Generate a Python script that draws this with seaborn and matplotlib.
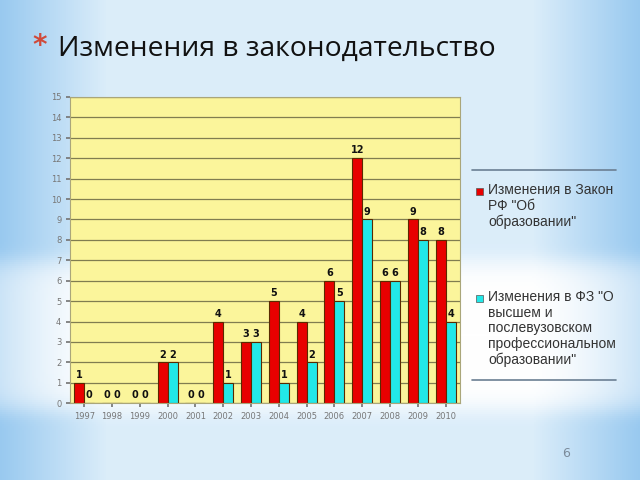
import numpy as np
import pandas as pd
import matplotlib
matplotlib.use("Agg")
import matplotlib.pyplot as plt
import seaborn as sns
from matplotlib.lines import Line2D
from matplotlib.patches import Rectangle

years = ["1997", "1998", "1999", "2000", "2001", "2002", "2003", "2004",
         "2005", "2006", "2007", "2008", "2009", "2010"]
law_rf = [1, 0, 0, 2, 0, 4, 3, 5, 4, 6, 12, 6, 9, 8]
law_fz = [0, 0, 0, 2, 0, 1, 3, 1, 2, 5, 9, 6, 8, 4]
series_names = ["Изменения в Закон\nРФ \"Об\nобразовании\"",
                "Изменения в ФЗ \"О\nвысшем и\nпослевузовском\nпрофессиональном\nобразовании\""]
colors = ["#E80000", "#22E8E8"]
title = "Изменения в законодательство"

df = pd.DataFrame({
    "year": years * 2,
    "value": law_rf + law_fz,
    "series": [series_names[0]] * len(years) + [series_names[1]] * len(years),
})

sns.set_theme(style="white")
plt.rcParams["font.family"] = ["DejaVu Sans"]

fig = plt.figure(figsize=(6.4, 4.8), dpi=100)

# background gradient
bg = fig.add_axes([0, 0, 1, 1], zorder=-10)
h, w = 240, 320
yy = np.linspace(0, 1, h)[:, None]
xx = np.linspace(0, 1, w)[None, :]
base = np.array([0.86, 0.93, 0.98])
edge = np.array([0.60, 0.79, 0.94])
white = np.array([1.0, 1.0, 1.0])
side = np.clip(np.minimum(xx, 1 - xx) * 6, 0, 1)
img = np.zeros((h, w, 3))
for c in range(3):
    img[:, :, c] = edge[c] + (base[c] - edge[c]) * side
band = np.exp(-((yy - 0.70) / 0.16) ** 8)
band = band * (0.5 + 0.5 * side)
img = img * (1 - band[:, :, None]) + white * band[:, :, None]
bg.imshow(img, aspect="auto", extent=[0, 1, 0, 1])
bg.set_axis_off()

ax = fig.add_axes([0.110, 0.160, 0.608, 0.638])
ax.set_facecolor("#FBF59B")
sns.barplot(data=df, x="year", y="value", hue="series",
            palette=colors, width=0.72, ax=ax,
            edgecolor="#5a2a00", linewidth=0.8, saturation=1, legend=False)

for cont in ax.containers:
    ax.bar_label(cont, fmt="%d", fontsize=7, fontweight="bold", padding=2, color="#111111")

ax.set_ylim(0, 15)
ax.set_yticks(range(0, 16))
ax.yaxis.grid(True, color="#807d50", linewidth=0.9)
ax.set_axisbelow(True)
ax.tick_params(axis="both", labelsize=6, colors="#777777", length=3, left=True, bottom=True)
ax.set_xlabel("")
ax.set_ylabel("")
for s in ax.spines.values():
    s.set_color("#aaa67a")
    s.set_linewidth(0.8)

# legend (manual, handle aligned with first line)
leg_y = [1 - 183 / 480, 1 - 290 / 480]
for name, col, ty in zip(series_names, colors, leg_y):
    fig.add_artist(Rectangle((476 / 640, ty - 12 / 480), 7 / 640, 7 / 480,
                             transform=fig.transFigure, facecolor=col,
                             edgecolor="#555555", linewidth=0.5))
    fig.text(488 / 640, ty, name, transform=fig.transFigure, ha="left", va="top",
             fontsize=10, color="#333333", family=["Liberation Sans", "DejaVu Sans"],
             linespacing=1.15)

fig.add_artist(Line2D([0.738, 0.962], [0.646, 0.646], transform=fig.transFigure,
                      color="#6b7f93", linewidth=1.2))
fig.add_artist(Line2D([0.738, 0.962], [0.208, 0.208], transform=fig.transFigure,
                      color="#6b7f93", linewidth=1.2))

fig.text(0.050, 0.905, "*", color="#d04a3a", fontsize=20, fontweight="bold",
         ha="left", va="center")
fig.text(0.090, 0.898, title, color="#111111", fontsize=20.3, ha="left", va="center",
         family=["Open Sans", "DejaVu Sans"])
fig.text(0.885, 0.056, "6", color="#7b8a9a", fontsize=9, ha="center", va="center")

fig.savefig("out.png", dpi=100)
